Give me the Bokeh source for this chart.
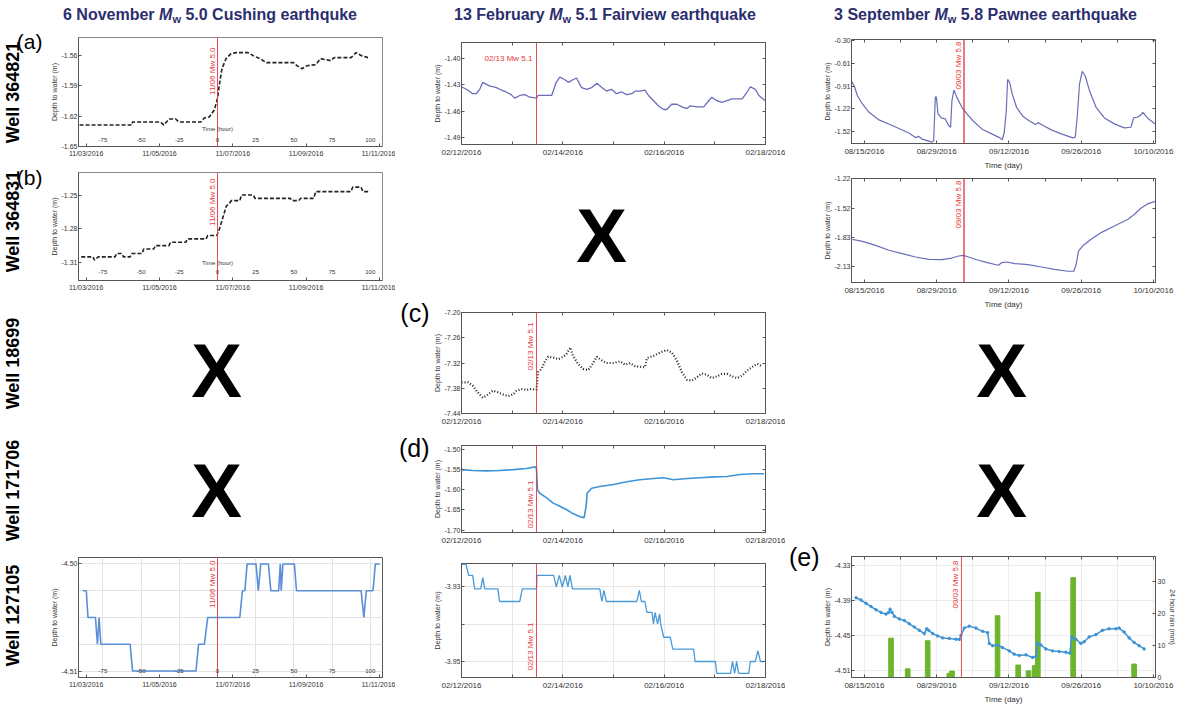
import pandas as pd
from math import pi
from bokeh.plotting import figure
from bokeh.models import (Range1d, Label, LabelSet, ColumnDataSource, FixedTicker,
                          PrintfTickFormatter, LinearAxis, Div, Span)
from bokeh.layouts import row, column
from bokeh.embed import file_html
from bokeh.resources import INLINE
from bokeh.core.properties import value

# ---------------------------------------------------------------- texts
title_cushing = ("6 November ", " 5.0 Cushing earthquke")
title_fairview = ("13 February ", " 5.1 Fairview earthquake")
title_pawnee = ("3 September ", " 5.8 Pawnee earthquake")
wells = ["Well 364821", "Well 364831", "Well 18699", "Well 171706", "Well 127105"]
panel_letters = ["(a)", "(b)", "(c)", "(d)", "(e)"]
ev_text_cushing = "11/06 Mw 5.0"
ev_text_fairview = "02/13 Mw 5.1"
ev_text_pawnee = "09/03 Mw 5.8"
ylab = "Depth to water (m)"

# ---------------------------------------------------------------- axes / ticks
cushing_ref = "2016-11-06 14:00"          # zero of the inner "Time (hour)" axis
cushing_dates = ["2016-11-03", "2016-11-05", "2016-11-07", "2016-11-09", "2016-11-11"]
cushing_date_labels = ["11/03/2016", "11/05/2016", "11/07/2016", "11/09/2016", "11/11/2016"]
hour_ticks = [-75, -50, -25, 0, 25, 50, 75, 100]
cushing_event_hour = 0.0

fv_ticks = [0, 1, 2, 3, 4, 5, 6]            # days since 02/12/2016
fv_labels = ["02/12/2016", "", "02/14/2016", "", "02/16/2016", "", "02/18/2016"]
fv_event_day = 1.48

pw_ticks = [0, 14, 28, 42, 56]               # days since 08/15/2016
pw_minor_ticks = [0, 7, 14, 21, 28, 35, 42, 49, 56]
pw_labels = ["08/15/2016", "08/29/2016", "09/12/2016", "09/26/2016", "10/10/2016"]
pw_event_day = 19.3
pe_event_day = 18.8

a_yticks = [-1.65, -1.62, -1.59, -1.56]
b_yticks = [-1.31, -1.28, -1.25]
cb_yticks = [-4.51, -4.50]
cb_levels = [-4.5100, -4.5075, -4.5050, -4.5025, -4.5000]
fv1_yticks = [-1.49, -1.46, -1.43, -1.40]
c_yticks = [-7.44, -7.38, -7.32, -7.26, -7.20]
d_yticks = [-1.70, -1.65, -1.60, -1.55, -1.50]
fvb_yticks = [-3.95, -3.94, -3.93]
fvb_ylabels = ["-3.95", "", "-3.93"]
pw1_yticks = [-1.524, -1.2192, -0.9144, -0.6096, -0.3048]
pw2_yticks = [-2.1336, -1.8288, -1.524, -1.2192]
e_yticks = [-4.5110, -4.4501, -4.3891, -4.3282]
rain_ticks = [0, 10, 20, 30]

# ---------------------------------------------------------------- data
# Cushing, Well 364821 (hours from reference)
a_hour = [-90.3, -56.1, -55.7, -37.3, -35.1, -31.8, -27.4, -25.2, -10.9, -8.7, -5.4, -2.1, 0.1, 1.2,
          2.9, 5.6, 8.9, 12.3, 20.0, 23.3, 27.7, 32.1, 49.8, 52.0, 55.3, 58.6, 64.2, 67.5, 74.1, 76.4,
          87.4, 90.7, 94.1, 98.5]
a_depth = [-1.629, -1.629, -1.626, -1.626, -1.629, -1.623, -1.623, -1.626, -1.626, -1.622, -1.621,
           -1.614, -1.602, -1.589, -1.573, -1.563, -1.558, -1.557, -1.557, -1.560, -1.563, -1.567,
           -1.567, -1.570, -1.573, -1.570, -1.569, -1.563, -1.565, -1.562, -1.562, -1.557, -1.560, -1.562]

# Cushing, Well 364831
b_hour = [-89.2, -81.5, -80.5, -78.1, -67.1, -66.0, -62.7, -61.6, -57.2, -56.1, -49.4, -48.3, -41.7,
          -40.6, -31.8, -30.7, -20.8, -19.6, -7.5, -6.4, -0.4, 1.3, 3.5, 5.7, 7.9, 9.1, 14.6, 15.7,
          23.4, 24.5, 47.7, 48.8, 53.2, 54.3, 63.1, 64.2, 87.4, 88.5, 94.0, 95.1, 99.6]
b_depth = [-1.305, -1.305, -1.308, -1.305, -1.305, -1.302, -1.302, -1.305, -1.305, -1.302, -1.302,
           -1.298, -1.298, -1.295, -1.295, -1.292, -1.292, -1.289, -1.289, -1.286, -1.286, -1.280,
           -1.270, -1.260, -1.257, -1.255, -1.255, -1.250, -1.250, -1.253, -1.253, -1.255, -1.255,
           -1.253, -1.253, -1.247, -1.247, -1.243, -1.243, -1.247, -1.247]

# Cushing, Well 127105
cb_hour = [-88.1, -85.9, -84.8, -79.9, -78.6, -77.5, -76.4, -57.2, -55.6, -14.1, -12.4, -8.6, -6.4,
           14.6, 16.3, 17.9, 19.4, 25.2, 26.7, 28.3, 33.3, 34.9, 40.0, 41.1, 41.7, 42.8, 50.3, 51.7,
           94.0, 95.8, 97.4, 101.8, 103.3, 106.2]
cb_depth = [-4.5025, -4.5025, -4.5050, -4.5050, -4.5075, -4.5050, -4.5075, -4.5075, -4.5100, -4.5100,
            -4.5075, -4.5075, -4.5050, -4.5050, -4.5025, -4.5025, -4.5000, -4.5000, -4.5025, -4.5000,
            -4.5000, -4.5025, -4.5025, -4.5000, -4.5025, -4.5000, -4.5000, -4.5025, -4.5025, -4.5050,
            -4.5025, -4.5025, -4.5000, -4.5000]

# Fairview, Well 364821 (days since 02/12/2016)
fv1_day = [0.0, 0.13, 0.22, 0.29, 0.36, 0.42, 0.55, 0.69, 0.79, 0.88, 0.98, 1.05, 1.15, 1.25, 1.35,
           1.48, 1.51, 1.78, 1.87, 1.94, 2.04, 2.11, 2.20, 2.27, 2.37, 2.47, 2.57, 2.67, 2.77, 2.86,
           2.96, 3.06, 3.16, 3.26, 3.36, 3.43, 3.52, 3.62, 3.69, 3.79, 3.89, 3.99, 4.05, 4.15, 4.25,
           4.35, 4.45, 4.51, 4.65, 4.78, 4.88, 4.94, 5.04, 5.14, 5.24, 5.34, 5.44, 5.54, 5.64, 5.70,
           5.80, 5.87, 5.97, 6.0]
fv1_depth = [-1.432, -1.436, -1.440, -1.440, -1.435, -1.427, -1.431, -1.433, -1.436, -1.438, -1.441,
             -1.445, -1.442, -1.441, -1.444, -1.445, -1.442, -1.442, -1.427, -1.421, -1.424, -1.427,
             -1.424, -1.422, -1.433, -1.435, -1.433, -1.428, -1.433, -1.437, -1.435, -1.440, -1.438,
             -1.441, -1.440, -1.437, -1.437, -1.436, -1.442, -1.448, -1.454, -1.458, -1.458, -1.452,
             -1.452, -1.455, -1.457, -1.454, -1.455, -1.455, -1.448, -1.444, -1.448, -1.450, -1.448,
             -1.446, -1.446, -1.446, -1.438, -1.432, -1.435, -1.442, -1.447, -1.448]

# Fairview, Well 18699
c_day = [0.0, 0.13, 0.22, 0.32, 0.42, 0.50, 0.62, 0.72, 0.82, 0.92, 1.02, 1.08, 1.18, 1.28, 1.38, 1.48,
         1.51, 1.58, 1.64, 1.71, 1.81, 1.91, 2.01, 2.07, 2.15, 2.20, 2.30, 2.40, 2.50, 2.59, 2.67, 2.77,
         2.86, 3.00, 3.13, 3.23, 3.33, 3.43, 3.62, 3.66, 3.79, 3.92, 4.05, 4.15, 4.25, 4.35, 4.45, 4.55,
         4.65, 4.74, 4.84, 4.94, 5.04, 5.14, 5.24, 5.34, 5.44, 5.54, 5.64, 5.74, 5.84, 5.93]
c_depth = [-7.366, -7.366, -7.374, -7.390, -7.403, -7.397, -7.386, -7.390, -7.395, -7.399, -7.395,
           -7.387, -7.382, -7.384, -7.382, -7.384, -7.342, -7.334, -7.318, -7.305, -7.307, -7.311,
           -7.305, -7.299, -7.283, -7.303, -7.322, -7.334, -7.337, -7.322, -7.305, -7.314, -7.320,
           -7.320, -7.316, -7.324, -7.320, -7.328, -7.330, -7.308, -7.303, -7.295, -7.289, -7.295,
           -7.314, -7.342, -7.360, -7.362, -7.354, -7.345, -7.348, -7.356, -7.352, -7.346, -7.346,
           -7.352, -7.356, -7.350, -7.338, -7.329, -7.322, -7.328]

# Fairview, Well 171706
d_day = [0.0, 0.22, 0.49, 0.75, 1.02, 1.28, 1.45, 1.48, 1.50, 1.54, 1.68, 1.81, 1.94, 2.07, 2.20, 2.34,
         2.42, 2.46, 2.48, 2.57, 2.73, 3.00, 3.26, 3.52, 3.79, 3.99, 4.18, 4.45, 4.71, 4.98, 5.24, 5.50,
         5.77, 5.97]
d_depth = [-1.550, -1.552, -1.553, -1.552, -1.550, -1.547, -1.543, -1.547, -1.600, -1.608, -1.620,
           -1.633, -1.641, -1.649, -1.659, -1.667, -1.669, -1.641, -1.608, -1.596, -1.592, -1.587,
           -1.580, -1.575, -1.572, -1.570, -1.575, -1.572, -1.570, -1.568, -1.567, -1.562, -1.560, -1.560]

# Fairview, Well 127105
fvb_day = [0.0, 0.09, 0.14, 0.22, 0.26, 0.38, 0.42, 0.46, 0.72, 0.75, 1.15, 1.20, 1.48, 1.49, 1.82,
           1.87, 1.93, 1.99, 2.05, 2.10, 2.14, 2.19, 2.73, 2.77, 2.81, 2.86, 3.46, 3.51, 3.55, 3.62,
           3.66, 3.76, 3.79, 3.82, 3.87, 3.91, 3.93, 3.99, 4.12, 4.17, 4.58, 4.61, 5.01, 5.04, 5.31,
           5.35, 5.39, 5.43, 5.47, 5.67, 5.70, 5.80, 5.85, 5.90, 5.97]
fvb_depth = [-3.9239, -3.9239, -3.9269, -3.9269, -3.9305, -3.9305, -3.9275, -3.9305, -3.9305, -3.9339,
             -3.9339, -3.9305, -3.9305, -3.9269, -3.9269, -3.9300, -3.9269, -3.9300, -3.9269, -3.9300,
             -3.9269, -3.9305, -3.9305, -3.9339, -3.9309, -3.9339, -3.9339, -3.9309, -3.9339, -3.9339,
             -3.9368, -3.9368, -3.9399, -3.9368, -3.9399, -3.9372, -3.9399, -3.9435, -3.9435, -3.9467,
             -3.9467, -3.9500, -3.9500, -3.9532, -3.9532, -3.9500, -3.9532, -3.9500, -3.9532, -3.9532,
             -3.9500, -3.9500, -3.9471, -3.9500, -3.9500]

# Pawnee, Well 364821 (days since 08/15/2016)
pw1_day = [-2.63, -1.99, -1.35, -0.39, 0.90, 2.83, 5.39, 8.61, 9.89, 10.53, 11.18, 13.10, 13.42, 13.74,
           13.94, 14.26, 14.90, 15.67, 16.31, 16.70, 16.96, 17.34, 17.92, 18.88, 19.85, 21.13, 22.74,
           24.66, 26.27, 26.72, 27.10, 27.49, 27.75, 28.13, 28.64, 29.48, 30.76, 32.05, 33.14, 33.65,
           34.62, 36.22, 38.15, 40.40, 40.85, 41.23, 41.68, 42.20, 42.77, 43.61, 44.89, 46.50, 48.43,
           50.35, 51.64, 52.15, 52.80, 53.44, 53.95, 54.85, 56.13, 57.42]
pw1_depth = [-0.835, -0.910, -1.043, -1.153, -1.264, -1.365, -1.440, -1.540, -1.600, -1.585, -1.620,
             -1.661, -1.640, -1.065, -1.056, -1.286, -1.339, -1.352, -1.440, -1.463, -1.109, -0.967,
             -1.065, -1.197, -1.286, -1.383, -1.485, -1.551, -1.604, -1.630, -1.529, -1.241, -0.826,
             -0.866, -1.020, -1.197, -1.321, -1.383, -1.427, -1.401, -1.440, -1.498, -1.551, -1.604,
             -1.595, -1.330, -0.888, -0.720, -0.777, -0.976, -1.197, -1.339, -1.418, -1.471, -1.463,
             -1.339, -1.330, -1.308, -1.264, -1.339, -1.410, -1.454]

# Pawnee, Well 364831
pw2_day = [-2.31, -0.39, 2.18, 4.75, 7.32, 9.89, 12.46, 15.03, 16.96, 18.24, 19.20, 20.17, 22.09, 24.02,
           25.95, 26.59, 27.55, 29.16, 31.73, 34.30, 36.87, 39.43, 40.59, 41.04, 41.49, 42.32, 43.93,
           45.86, 48.43, 51.00, 52.28, 53.56, 54.85, 56.78]
pw2_depth = [-1.847, -1.868, -1.909, -1.960, -1.995, -2.030, -2.054, -2.058, -2.041, -2.020, -2.013,
             -2.030, -2.064, -2.092, -2.116, -2.089, -2.082, -2.099, -2.110, -2.134, -2.158, -2.178,
             -2.178, -2.103, -1.966, -1.914, -1.846, -1.777, -1.709, -1.640, -1.589, -1.524, -1.479, -1.445]

# Pawnee, Well 127105 and 24 hour rain
e_day = [-1.61, -0.64, 0.32, 1.29, 2.26, 3.23, 4.19, 4.71, 4.97, 5.35, 5.81, 6.77, 7.74, 8.71, 9.68,
         10.65, 11.61, 12.06, 12.45, 13.23, 14.19, 15.16, 16.45, 17.74, 18.39, 18.71, 19.35, 20.32,
         21.61, 22.90, 23.87, 24.19, 24.84, 25.81, 26.77, 28.06, 29.03, 30.00, 31.29, 32.58, 33.23,
         33.55, 34.19, 35.16, 36.45, 37.74, 39.03, 39.81, 40.19, 40.97, 41.94, 42.58, 43.55, 44.84,
         46.13, 47.42, 48.71, 49.35, 50.32, 51.29, 52.26, 53.23, 54.19]
e_depth = [-4.3843, -4.3883, -4.3940, -4.3997, -4.4054, -4.4100, -4.4129, -4.4100, -4.4043, -4.4100,
           -4.4169, -4.4214, -4.4243, -4.4300, -4.4356, -4.4414, -4.4471, -4.4386, -4.4414, -4.4471,
           -4.4511, -4.4546, -4.4557, -4.4569, -4.4574, -4.4500, -4.4374, -4.4340, -4.4374, -4.4431,
           -4.4454, -4.4643, -4.4683, -4.4671, -4.4717, -4.4774, -4.4831, -4.4854, -4.4843, -4.4889,
           -4.4871, -4.4643, -4.4671, -4.4740, -4.4774, -4.4786, -4.4797, -4.4814, -4.4529, -4.4569,
           -4.4643, -4.4614, -4.4529, -4.4489, -4.4414, -4.4386, -4.4386, -4.4374, -4.4443, -4.4546,
           -4.4626, -4.4683, -4.4740]
rain_day = [5.16, 8.39, 12.26, 16.45, 16.97, 25.8, 29.8, 31.8, 33.0, 33.6, 40.45, 52.26]
rain_mm = [12.3, 2.7, 11.5, 1.3, 2.0, 19.3, 3.9, 2.1, 3.7, 26.6, 31.2, 4.2]

# ---------------------------------------------------------------- styling
FONT = "Liberation Sans"
TICK_COL = "#333333"
FRAME_COL = "#555555"
EV_COL = "#e5383b"
NAVY = "#2c2e6e"
PURPLE_BLUE = "#6a6eb8"
SKY = "#3d93d6"
GREEN = "#6cb52d"


def base_fig(w, h, xr, yr, left, right, top, bottom):
    p = figure(width=w, height=h, x_range=Range1d(*xr), y_range=Range1d(*yr), title=None,
               output_backend="svg", toolbar_location=None,
               min_border_left=left, min_border_right=right,
               min_border_top=top, min_border_bottom=bottom)
    p.outline_line_color = FRAME_COL
    p.outline_line_width = 1
    p.grid.visible = False
    p.background_fill_color = "white"
    p.border_fill_color = "white"
    return p


def style_axis(ax, label_size="7px"):
    ax.major_tick_in = 3
    ax.major_tick_out = 0
    ax.minor_tick_line_color = None
    ax.axis_line_color = FRAME_COL
    ax.major_tick_line_color = FRAME_COL
    ax.major_label_text_font = FONT
    ax.major_label_text_font_size = label_size
    ax.major_label_text_color = TICK_COL
    ax.major_label_standoff = 1
    ax.axis_label_text_font = FONT
    ax.axis_label_text_font_size = "7px"
    ax.axis_label_text_font_style = "normal"
    ax.axis_label_text_color = TICK_COL
    ax.axis_label_standoff = 1


def set_axes(p, xticks, xlabels, yticks, yfmt, xsize="7px", xlabel=None, ylabels=None):
    for ax in p.axis:
        style_axis(ax)
    p.xaxis.ticker = FixedTicker(ticks=xticks)
    p.xaxis.major_label_overrides = {t: l for t, l in zip(xticks, xlabels)}
    p.xaxis.major_label_text_font_size = xsize
    p.xaxis.major_label_standoff = 3
    p.yaxis.ticker = FixedTicker(ticks=yticks)
    p.yaxis.formatter = PrintfTickFormatter(format=yfmt)
    if ylabels is not None:
        p.yaxis.major_label_overrides = {t: l for t, l in zip(yticks, ylabels)}
    p.yaxis.axis_label = ylab
    if xlabel:
        p.xaxis.axis_label = xlabel
        p.xaxis.axis_label_text_font_size = "8px"
        p.xaxis.axis_label_standoff = 2


def mirror_ticks(p, xticks, yticks, right=True):
    """Tick marks without labels on the top (and right) frame edges."""
    sides = [("above", xticks)]
    if right:
        sides.append(("right", yticks))
    for side, ticks in sides:
        ax = LinearAxis(ticker=FixedTicker(ticks=ticks))
        ax.major_label_overrides = {t: "" for t in ticks}
        ax.major_label_text_font_size = "1px"
        ax.major_label_standoff = 0
        ax.major_tick_in = 3
        ax.major_tick_out = 0
        ax.minor_tick_line_color = None
        ax.axis_line_color = None
        ax.major_tick_line_color = FRAME_COL
        p.add_layout(ax, side)


def letter_axis(p, letter):
    """Panel letter drawn as the single tick label of an extra, invisible left axis."""
    ranges = dict(p.extra_y_ranges)
    ranges["letter"] = Range1d(0, 1)
    p.extra_y_ranges = ranges
    ax = LinearAxis(y_range_name="letter", ticker=FixedTicker(ticks=[1]))
    ax.major_label_overrides = {1: letter}
    ax.axis_line_color = None
    ax.major_tick_line_color = None
    ax.minor_tick_line_color = None
    ax.major_tick_in = 0
    ax.major_tick_out = 0
    ax.major_label_text_font = FONT
    ax.major_label_text_font_size = "25px"
    ax.major_label_text_color = "black"
    ax.major_label_standoff = 1
    p.add_layout(ax, "left")


def event(p, x, text, where, off, horizontal=False, width=1.0):
    p.add_layout(Span(location=x, dimension="height", line_color=EV_COL, line_width=width, line_alpha=0.9))
    if horizontal:
        p.add_layout(Label(x=x, y=p.y_range.end, text=text, text_align="right", text_baseline="middle",
                           x_offset=-4, y_offset=-off, text_font=FONT, text_font_size="8px",
                           text_color=EV_COL))
        return
    if where == "top":
        lab = Label(x=x, y=p.y_range.end, text=text, angle=pi / 2, text_align="right",
                    text_baseline="bottom", x_offset=-1, y_offset=-off)
    else:
        lab = Label(x=x, y=p.y_range.start, text=text, angle=pi / 2, text_align="left",
                    text_baseline="bottom", x_offset=-1, y_offset=off)
    lab.text_font = FONT
    lab.text_font_size = "8px"
    lab.text_color = EV_COL
    p.add_layout(lab)


def screen_text(p, x, y, text, size, bold=False, angle=0.0, align="center"):
    p.add_layout(Label(x=x, y=y, x_units="screen", y_units="screen", text=text, angle=angle,
                       text_align=align, text_baseline="middle", text_font=FONT,
                       text_font_size=size, text_font_style="bold" if bold else "normal",
                       text_color="black"))


def hour_labels(p, ybase):
    src = ColumnDataSource(dict(x=hour_ticks, t=[str(h) for h in hour_ticks]))
    p.add_layout(LabelSet(x="x", y=ybase, y_units="screen", text="t", source=src,
                          text_align="center", text_baseline="middle", text_font=value(FONT),
                          text_font_size=value("6px"), text_color="#333333"))


def blank_fig(w, h):
    p = figure(width=w, height=h, x_range=Range1d(0, 1), y_range=Range1d(0, 1), title=None,
               output_backend="svg", toolbar_location=None, min_border=0,
               x_axis_type=None, y_axis_type=None)
    p.outline_line_color = None
    p.background_fill_color = "white"
    p.border_fill_color = "white"
    return p


def x_cell(w, h, xc, yc):
    p = blank_fig(w, h)
    screen_text(p, xc, yc, "X", "76px", bold=True)
    return p


def title_bar():
    blocks = []
    for (pre, post), w, pad in [(title_cushing, 420, 0), (title_fairview, 370, 0), (title_pawnee, 391, 22)]:
        blocks.append(
            f'<div style="display:inline-block;vertical-align:top;width:{w - pad}px;padding-left:{pad}px;'
            f'text-align:center;white-space:nowrap;">{pre}<i>M</i>'
            f'<sub style="font-size:11px;vertical-align:-3px;line-height:0;">w</sub>{post}</div>')
    html = (f'<div style="width:1181px;height:26px;padding-top:5px;box-sizing:border-box;white-space:nowrap;'
            f'font-family:\'Liberation Sans\',Arial,sans-serif;font-weight:bold;font-size:16px;'
            f'color:{NAVY};line-height:20px;">' + "".join(blocks) + '</div>')
    return Div(text=html, width=1181, height=26, margin=(0, 0, 0, 0))


# ---------------------------------------------------------------- left strip: well names, (a), (b)
BOTTOM = 706
SW = 44
strip = blank_fig(SW, BOTTOM - 26)
for name, yc in zip(wells, [92, 221, 363, 490, 615]):
    screen_text(strip, 12, BOTTOM - yc, name, "18px", bold=True, angle=pi / 2)
screen_text(strip, SW - 2, BOTTOM - 41, panel_letters[0], "21px", align="right")
screen_text(strip, SW - 2, BOTTOM - 177, panel_letters[1], "21px", align="right")

# ---------------------------------------------------------------- Cushing column (x 44..395)
ref = pd.Timestamp(cushing_ref)
cushing_date_ticks = [int(round((pd.Timestamp(d) - ref) / pd.Timedelta(hours=1))) for d in cushing_dates]
CX = (-91.0, 108.0)
CW, CL, CR = 395 - SW, 34, 13

fa = base_fig(CW, 142, CX, (-1.6503, -1.542), CL, CR, 11, 22)
fa.outline_line_color = "#888888"
fa.line(a_hour, a_depth, line_color="#222222", line_width=1.6, line_dash="4 2")
set_axes(fa, cushing_date_ticks, cushing_date_labels, a_yticks, "%.2f")
event(fa, cushing_event_hour, ev_text_cushing, "top", 10)
hour_labels(fa, 7)
fa.add_layout(Label(x=cushing_event_hour, y=18, y_units="screen", text="Time (hour)", text_align="center",
                    text_baseline="middle", text_font=FONT, text_font_size="6px", text_color="#333333"))

fb = base_fig(CW, 132, CX, (-1.326, -1.230), CL, CR, 4, 20)
fb.outline_line_color = "#888888"
fb.line(b_hour, b_depth, line_color="#222222", line_width=1.6, line_dash="4 2")
set_axes(fb, cushing_date_ticks, cushing_date_labels, b_yticks, "%.2f")
event(fb, cushing_event_hour, ev_text_cushing, "top", 6)
hour_labels(fb, 9)
fb.add_layout(Label(x=cushing_event_hour, y=18, y_units="screen", text="Time (hour)", text_align="center",
                    text_baseline="middle", text_font=FONT, text_font_size="6px", text_color="#333333"))

cx3 = x_cell(CW, 130, 138, 60)
cx4 = x_cell(CW, 120, 138, 60)

fcb = base_fig(CW, 156, CX, (-4.5106, -4.4994), CL, CR, 7, 29)
fcb.xgrid.visible = True
fcb.ygrid.visible = True
fcb.xgrid.ticker = FixedTicker(ticks=hour_ticks)
fcb.ygrid.ticker = FixedTicker(ticks=cb_levels)
fcb.grid.grid_line_color = "#e3e3e3"
fcb.line(cb_hour, cb_depth, line_color="#5a8ed6", line_width=1.6)
set_axes(fcb, cushing_date_ticks, cushing_date_labels, cb_yticks, "%.2f")
event(fcb, cushing_event_hour, ev_text_cushing, "top", 3)
hour_labels(fcb, 7)

col_cushing = column(fa, fb, cx3, cx4, fcb, spacing=0)

# ---------------------------------------------------------------- Fairview column (x 395..785)
FX = (0.0, 6.0)
FW, FL, FR = 390, 65, 20

ft = base_fig(FW, 140, FX, (-1.498, -1.3815), FL, FR, 16, 22)
ft.line(fv1_day, fv1_depth, line_color=PURPLE_BLUE, line_width=1.3)
set_axes(ft, fv_ticks, fv_labels, fv1_yticks, "%.2f", xsize="8px")
mirror_ticks(ft, fv_ticks, fv1_yticks)
event(ft, fv_event_day, ev_text_fairview, "top", 16, horizontal=True)

fx = x_cell(FW, 132, 140, 63)

fc = base_fig(FW, 134, FX, (-7.4405, -7.1995), FL, FR, 14, 19)
fc.line(c_day, c_depth, line_color="#222222", line_width=2.2, line_dash="1 2")
set_axes(fc, fv_ticks, fv_labels, c_yticks, "%.2f", xsize="8px")
mirror_ticks(fc, fv_ticks, c_yticks)
event(fc, fv_event_day, ev_text_fairview, "top", 10)
letter_axis(fc, panel_letters[2])

fd = base_fig(FW, 116, FX, (-1.706, -1.49), FL, FR, 13, 16)
fd.line(d_day, d_depth, line_color=SKY, line_width=1.6)
set_axes(fd, fv_ticks, fv_labels, d_yticks, "%.2f", xsize="8px")
mirror_ticks(fd, fv_ticks, d_yticks)
event(fd, fv_event_day, ev_text_fairview, "bottom", 4)
letter_axis(fd, panel_letters[3])

fbb = base_fig(FW, 158, FX, (-3.9543, -3.9237), FL, FR, 15, 29)
fbb.xgrid.visible = True
fbb.ygrid.visible = True
fbb.grid.grid_line_color = "#e6e6e6"
fbb.line(fvb_day, fvb_depth, line_color="#4a9ad8", line_width=1.3)
set_axes(fbb, fv_ticks, fv_labels, fvb_yticks, "%.2f", xsize="8px", ylabels=fvb_ylabels)
mirror_ticks(fbb, fv_ticks, fvb_yticks)
event(fbb, fv_event_day, ev_text_fairview, "bottom", 7)

col_fairview = column(ft, fx, fc, fd, fbb, spacing=0)

# ---------------------------------------------------------------- Pawnee column (x 785..1181)
PX = (-2.5, 56.4)
PW, PL, PR = 396, 65, 26

pt = base_fig(PW, 146, PX, (-1.679, -0.295), PL, PR, 13, 28)
pt.line(pw1_day, pw1_depth, line_color=PURPLE_BLUE, line_width=1.2)
set_axes(pt, pw_ticks, pw_labels, pw1_yticks, "%.2f", xsize="8px", xlabel="Time (day)")
mirror_ticks(pt, pw_minor_ticks, pw1_yticks)
event(pt, pw_event_day, ev_text_pawnee, "top", 2, width=1.5)

p2 = base_fig(PW, 140, PX, (-2.295, -1.215), PL, PR, 6, 30)
p2.line(pw2_day, pw2_depth, line_color=PURPLE_BLUE, line_width=1.2)
set_axes(p2, pw_ticks, pw_labels, pw2_yticks, "%.2f", xsize="8px", xlabel="Time (day)")
mirror_ticks(p2, pw_minor_ticks, pw2_yticks)
event(p2, pw_event_day, ev_text_pawnee, "top", 2, width=1.5)

px1 = x_cell(PW, 118, 150, 60)
px2 = x_cell(PW, 110, 150, 50)

pe = base_fig(PW, 166, PX, (-4.524, -4.312), PL, PR, 16, 27)
pe.extra_y_ranges = {"rain": Range1d(0, 37.8)}
pe.xgrid.visible = True
pe.ygrid.visible = True
pe.xgrid.ticker = FixedTicker(ticks=pw_minor_ticks)
pe.grid.grid_line_color = "#ececec"
pe.vbar(x=rain_day, top=rain_mm, width=0.9, bottom=0, y_range_name="rain",
        fill_color=GREEN, line_color=GREEN)
pe.line(e_day, e_depth, line_color=SKY, line_width=1.5)
pe.scatter(e_day, e_depth, size=2.5, color=SKY)
set_axes(pe, pw_ticks, pw_labels, e_yticks, "%.2f", xsize="8px", xlabel="Time (day)")
rax = LinearAxis(y_range_name="rain", axis_label="24 hour rain (mm)", ticker=FixedTicker(ticks=rain_ticks))
style_axis(rax)
rax.major_label_standoff = 2
pe.add_layout(rax, "right")
mirror_ticks(pe, pw_minor_ticks, e_yticks, right=False)
event(pe, pe_event_day, ev_text_pawnee, "top", 4)
letter_axis(pe, panel_letters[4])

col_pawnee = column(pt, p2, px1, px2, pe, spacing=0)

layout = column(title_bar(), row(strip, col_cushing, col_fairview, col_pawnee, spacing=0), spacing=0)

with open("out.html", "w") as f:
    f.write(file_html(layout, INLINE, "Water level response"))
